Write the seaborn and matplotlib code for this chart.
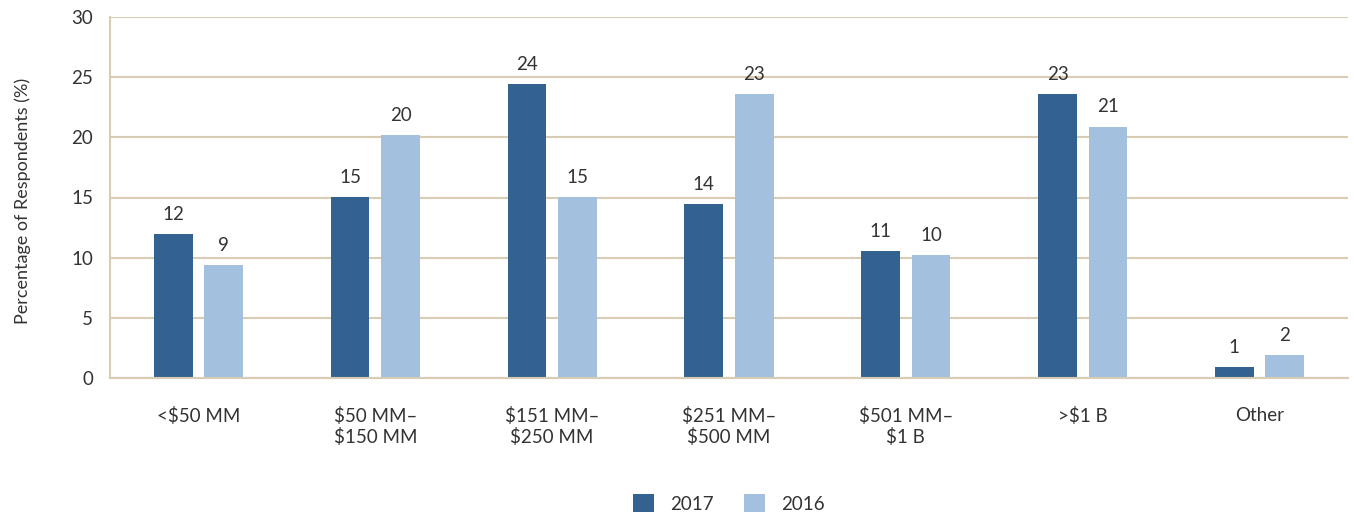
import matplotlib.pyplot as plt
import pandas as pd
import seaborn as sns

categories = ["<$50 MM", "$50 MM–\n$150 MM", "$151 MM–\n$250 MM", "$251 MM–\n$500 MM",
              "$501 MM–\n$1 B", ">$1 B", "Other"]
vals_2017 = [11.97, 15.05, 24.4, 14.47, 10.56, 23.6, 0.94]
vals_2016 = [9.35, 20.2, 15.05, 23.6, 10.23, 20.9, 1.94]
labels_2017 = ["12", "15", "24", "14", "11", "23", "1"]
labels_2016 = ["9", "20", "15", "23", "10", "21", "2"]
years = ["2017", "2016"]

df = pd.DataFrame({
    "category": categories * 2,
    "value": vals_2017 + vals_2016,
    "year": [years[0]] * len(categories) + [years[1]] * len(categories),
})

sns.set_style("white")
plt.rcParams["font.family"] = ["Lato", "DejaVu Sans"]

grid_col = "#d8ccb4"
text_col = "#333333"

fig = plt.figure(figsize=(13.54, 5.12), dpi=100)
ax = fig.add_axes([110 / 1354, 1 - 378 / 512, 1238 / 1354, 361 / 512])

sns.barplot(data=df, x="category", y="value", hue="year", hue_order=years,
            palette=["#336291", "#a3c0de"], width=0.57, gap=0.23, saturation=1,
            edgecolor="none", linewidth=0, ax=ax, legend=True)

# value labels above each bar
for cont, labs in zip(ax.containers, [labels_2017, labels_2016]):
    ax.bar_label(cont, labels=labs, padding=8, fontsize=13.5, color=text_col)

ax.set_ylim(0, 30)
ax.set_yticks(range(0, 31, 5))
ax.set_xlim(-0.5, len(categories) - 0.5)
ax.grid(axis="y", color=grid_col, linewidth=1.5)
ax.set_axisbelow(True)
for s in ["top", "right"]:
    ax.spines[s].set_visible(False)
for s in ["left", "bottom"]:
    ax.spines[s].set_color(grid_col)
    ax.spines[s].set_linewidth(1.5)
ax.tick_params(axis="both", length=0, labelsize=13.5, colors=text_col)
ax.tick_params(axis="x", pad=21)
ax.tick_params(axis="y", pad=12)
ax.set_xlabel("")
ax.set_ylabel("Percentage of Respondents (%)", fontsize=13, color=text_col)
ax.yaxis.set_label_coords(-0.064, 0.49)

ax.legend(loc="upper center", bbox_to_anchor=(0.5, -0.275), ncol=2, frameon=False,
          fontsize=13.5, handlelength=1.1, handleheight=1.1, columnspacing=1.6,
          handletextpad=0.9, labelcolor=text_col)

fig.savefig("out.png", dpi=100)
